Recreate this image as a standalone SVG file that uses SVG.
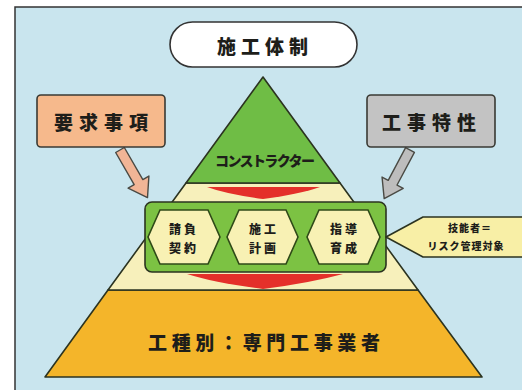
<svg xmlns="http://www.w3.org/2000/svg" width="522" height="390" viewBox="0 0 522 390">
<defs>
<style>
.jp{font-family:"Noto Sans CJK JP","Noto Sans CJK SC",sans-serif;font-weight:900;fill:#1e1e1a;text-anchor:middle;dominant-baseline:central}
.ln{stroke:#2b3320;stroke-width:1.6;stroke-linejoin:round}
.hex{fill:#f8f1b4;stroke:#2f4a18;stroke-width:1.6}
.chev{fill:#e4302a}
.arr{stroke:#4a4a44;stroke-width:1.4;stroke-linejoin:round}
</style>
</defs>
<rect x="0" y="0" width="522" height="390" fill="#ffffff"/>
<rect x="15" y="7" width="520" height="400" fill="#c9e5ee" stroke="#333" stroke-width="1.5"/>

<g id="layer-specialist">
<polygon class="ln" points="108,290 418,290 482,377 45,377" fill="#f4b52a"/>
<text class="jp" x="264" y="341" font-size="19" textLength="232" lengthAdjust="spacing">工種別：専門工事業者</text>
</g>
<g id="layer-middle">
<polygon class="ln" points="186,183 340,183 418,290 108,290" fill="#f7f0bb"/>
</g>
<g id="layer-constructor">
<polygon class="ln" points="263,77 340,183 186,183" fill="#6fbd45"/>
<text class="jp" x="265" y="160" font-size="14" fill="#1c2a10" textLength="100" lengthAdjust="spacing">コンストラクター</text>
</g>

<g id="connectors">
<path class="chev" d="M207,187 L320,187 Q300,194 263,199 Q226,194 207,187 Z"/>
<path class="chev" d="M187,274 L343,274 Q310,283 263,289 Q216,283 187,274 Z"/>
<path class="arr" fill="#f1b596" transform="translate(120,150) rotate(-30)" d="M-5,0 L-5,37 L-12,37 L0,55 L12,37 L5,37 L5,0 Z"/>
<path class="arr" fill="#bdbdbd" transform="translate(410,150) rotate(28)" d="M-5,0 L-5,37 L-12,37 L0,55 L12,37 L5,37 L5,0 Z"/>
</g>

<g id="management-box">
<rect class="ln" x="145" y="202" width="241" height="70" rx="7" fill="#7cc243"/>
</g>
<g id="hex-contract">
<polygon class="hex" points="160,210 208,210 220,237 208,264 160,264 148,237"/>
<text class="jp" x="184" y="228" font-size="12" letter-spacing="3">請負</text>
<text class="jp" x="184" y="247" font-size="12" letter-spacing="3">契約</text>
</g>
<g id="hex-plan">
<polygon class="hex" points="239,210 286,210 298,237 286,264 239,264 227,237"/>
<text class="jp" x="264" y="228" font-size="12" letter-spacing="3">施工</text>
<text class="jp" x="264" y="247" font-size="12" letter-spacing="3">計画</text>
</g>
<g id="hex-training">
<polygon class="hex" points="319,210 368,210 380,237 368,264 319,264 307,237"/>
<text class="jp" x="345" y="228" font-size="12" letter-spacing="3">指導</text>
<text class="jp" x="345" y="247" font-size="12" letter-spacing="3">育成</text>
</g>

<g id="risk-callout">
<polygon class="ln" points="386,237 423,217 530,217 530,257 423,257" fill="#f8efa6"/>
<text class="jp" x="470" y="227" font-size="10" letter-spacing="1">技能者＝</text>
<text class="jp" x="466" y="245" font-size="10" letter-spacing="1">リスク管理対象</text>
</g>

<g id="top-label">
<rect x="170" y="22" width="187" height="45" rx="22.5" fill="#ffffff" stroke="#333" stroke-width="1.6"/>
<text class="jp" x="265" y="45" font-size="19" letter-spacing="5">施工体制</text>
</g>
<g id="requirements">
<rect x="37" y="95" width="128" height="52" rx="4" fill="#f6b98c" stroke="#3a3a34" stroke-width="1.6"/>
<text class="jp" x="104" y="121" font-size="19" letter-spacing="6">要求事項</text>
</g>
<g id="characteristics">
<rect x="367" y="95" width="128" height="52" rx="4" fill="#c3c3c3" stroke="#3a3a34" stroke-width="1.6"/>
<text class="jp" x="432" y="121" font-size="19" letter-spacing="6">工事特性</text>
</g>
</svg>
